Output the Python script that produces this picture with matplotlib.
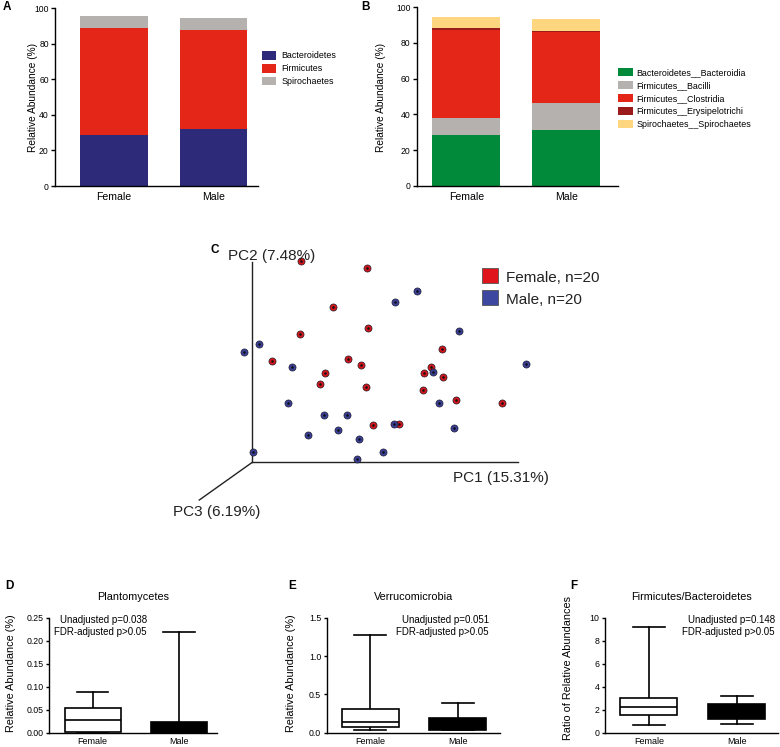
import numpy as np
import matplotlib
matplotlib.use("Agg")
import matplotlib.pyplot as plt
from matplotlib.patches import Rectangle

plt.rcParams['font.family'] = ['Liberation Sans', 'DejaVu Sans']

# ---------------- data ----------------
groups = ['Female', 'Male']

# Panel A (phylum level, %)
phy_bacteroidetes = [28.7, 31.8]
phy_firmicutes = [60.2, 55.8]
phy_spirochaetes = [6.6, 6.6]

# Panel B (class level, %)
cls_bacteroidia = [28.4, 31.2]
cls_bacilli = [9.4, 15.0]
cls_clostridia = [49.5, 39.8]
cls_erysipelotrichi = [1.1, 0.7]
cls_spirochaetes = [6.3, 6.7]

# Panel C (PCoA, projected coordinates)
fem_x = [48.4, 114.7, 80.4, 116.0, 47.4, 20.0, 95.7, 109.0, 73.0, 68.0,
         113.7, 190.0, 179.0, 171.7, 191.0, 170.7, 203.7, 250.0, 121.0, 146.7]
fem_y = [201.6, 194.6, 155.6, 134.6, 128.0, 101.6, 103.0, 97.0, 89.3, 78.0,
         75.6, 113.6, 95.6, 89.0, 85.0, 72.6, 62.3, 59.0, 37.3, 38.3]
male_x = [165.0, 142.7, 206.4, 6.7, -8.0, 40.0, 180.7, 273.7, 36.0, 187.0,
          71.4, 95.0, 141.4, 202.0, 56.0, 85.7, 106.7, 130.4, 0.4, 105.0]
male_y = [171.3, 160.6, 131.3, 118.6, 110.3, 95.3, 90.6, 98.3, 59.0, 59.0,
          47.3, 47.0, 38.0, 34.6, 27.6, 32.0, 23.0, 10.0, 10.6, 3.3]

# Panels D-F box summaries: (whislo, q1, med, q3, whishi)
plancto_female = (0.0, 0.001, 0.0275, 0.053, 0.088)
plancto_male = (0.0, 0.0, 0.0, 0.023, 0.22)
verru_female = (0.035, 0.074, 0.143, 0.309, 1.27)
verru_male = (0.03, 0.035, 0.10, 0.187, 0.383)
fb_female = (0.67, 1.54, 2.20, 2.99, 9.16)
fb_male = (0.75, 1.19, 1.90, 2.46, 3.19)

# ---------------- figure ----------------
W, H = 780, 747
fig = plt.figure(figsize=(W / 100, H / 100), dpi=100)


def add_ax(l, t, r, b):
    return fig.add_axes([l / W, 1 - b / H, (r - l) / W, (b - t) / H])


def fx(px):
    return px / W


def fy(py):
    return 1 - py / H


def style_axes(ax, tick_fs, xl_fs, tlen=2.5):
    for s in ['top', 'right']:
        ax.spines[s].set_visible(False)
    for s in ['left', 'bottom']:
        ax.spines[s].set_linewidth(1.0)
    ax.tick_params(axis='y', direction='out', length=tlen, width=1.0,
                   labelsize=tick_fs, pad=1.5)
    ax.tick_params(axis='x', length=0, labelsize=xl_fs, pad=4.5)


def ylab(ax, text, xc, yc, fs):
    ax.set_ylabel(text, fontsize=fs)
    ax.yaxis.set_label_coords(fx(xc), fy(yc), transform=fig.transFigure)
    ax.yaxis.label.set_va('center')


def letter(t, xc, yc):
    fig.text(fx(xc), fy(yc), t, fontsize=8.5, fontweight='bold',
             ha='center', va='center')


xpos = np.arange(len(groups))

# ---- Panel A ----
axA = add_ax(55, 8, 258, 186)
stackA = [(phy_bacteroidetes, '#2d2a7a', 'Bacteroidetes'),
          (phy_firmicutes, '#e42618', 'Firmicutes'),
          (phy_spirochaetes, '#b4b1af', 'Spirochaetes')]
bottom = np.zeros(len(groups))
for vals, col, lab in stackA:
    axA.bar(xpos, vals, 0.68, bottom=bottom, color=col, label=lab)
    bottom += np.array(vals)
axA.set_xlim(-0.593, 1.447)
axA.set_ylim(0, 100)
axA.set_yticks([0, 20, 40, 60, 80, 100])
axA.set_xticks(xpos)
axA.set_xticklabels(groups)
style_axes(axA, 6.2, 7.6, tlen=3.0)
ylab(axA, 'Relative Abundance (%)', 32.5, 97, 7.3)
axA.legend(loc='upper left', bbox_to_anchor=(fx(262), fy(51)),
           bbox_transform=fig.transFigure, frameon=False, fontsize=6.4,
           handlelength=1.6, handleheight=1.15, labelspacing=0.38,
           handletextpad=0.55, borderpad=0, borderaxespad=0)
letter('A', 6.5, 7.5)

# ---- Panel B ----
axB = add_ax(416.7, 7.3, 618, 185.7)
stackB = [(cls_bacteroidia, '#008a3a', 'Bacteroidetes__Bacteroidia'),
          (cls_bacilli, '#b4b1af', 'Firmicutes__Bacilli'),
          (cls_clostridia, '#e42618', 'Firmicutes__Clostridia'),
          (cls_erysipelotrichi, '#9b1a1a', 'Firmicutes__Erysipelotrichi'),
          (cls_spirochaetes, '#fdd67f', 'Spirochaetes__Spirochaetes')]
bottom = np.zeros(len(groups))
for vals, col, lab in stackB:
    axB.bar(xpos, vals, 0.68, bottom=bottom, color=col, label=lab)
    bottom += np.array(vals)
axB.set_xlim(-0.497, 1.52)
axB.set_ylim(0, 100)
axB.set_yticks([0, 20, 40, 60, 80, 100])
axB.set_xticks(xpos)
axB.set_xticklabels(groups)
style_axes(axB, 6.2, 7.6, tlen=3.0)
ylab(axB, 'Relative Abundance (%)', 381, 97, 7.3)
axB.legend(loc='upper left', bbox_to_anchor=(fx(618), fy(68.5)),
           bbox_transform=fig.transFigure, frameon=False, fontsize=6.4,
           handlelength=1.65, handleheight=1.0, labelspacing=0.43,
           handletextpad=0.45, borderpad=0, borderaxespad=0)
letter('B', 366, 7.5)

# ---- Panel C ----
axC = add_ax(150, 230, 600, 560)
axC.set_xlim(-102.3, 347.7)
axC.set_ylim(-97.7, 232.3)
axC.axis('off')
ax_len = {'pc1': 266.0, 'pc2': 200.6}
axC.plot([0, ax_len['pc1']], [0, 0], color='#222222', lw=1.0)
axC.plot([0, 0], [0, ax_len['pc2']], color='#222222', lw=1.0)
axC.plot([0, -53.0], [0, -37.7], color='#222222', lw=1.0)
red_c, blue_c = '#d8141b', '#3a3f98'
for xs, ys, col in [(fem_x, fem_y, red_c), (male_x, male_y, blue_c)]:
    axC.scatter(xs, ys, s=26, color=col, edgecolor='#1c1c2c', linewidth=0.5,
                zorder=3)
    axC.scatter(xs, ys, s=3.5, color='#111111', linewidth=0, zorder=4)
axC.text(-24.3, 206.3, 'PC2 (7.48%)', fontsize=11, ha='left', va='center',
         color='#222222')
axC.text(200.7, -15.7, 'PC1 (15.31%)', fontsize=11, ha='left', va='center',
         color='#222222')
axC.text(-79.3, -49.4, 'PC3 (6.19%)', fontsize=11, ha='left', va='center',
         color='#222222')
leg_items = [('Female, n=20', '#e0141b'), ('Male, n=20', '#3e479f')]
for i, (lab, col) in enumerate(leg_items):
    y0 = 179.3 - i * 22.0
    axC.add_patch(Rectangle((229.7, y0), 16, 15, facecolor=col,
                            edgecolor='#555555', linewidth=0.6,
                            clip_on=False))
    axC.text(253.7, y0 + 5.5, lab, fontsize=11, ha='left', va='center',
             color='#222222')
letter('C', 214.5, 250)

# ---- Panels D-F ----
def box_panel(ax, fstats, mstats, ylim, yticks, fmt, xlim, title, ptxt,
              tx, ylabel, ylx, yly):
    stats = []
    for s in (fstats, mstats):
        stats.append(dict(whislo=s[0], q1=s[1], med=s[2], q3=s[3],
                          whishi=s[4], fliers=[]))
    bp = ax.bxp(stats, positions=xpos, widths=0.65, capwidths=0.36,
                patch_artist=True, showfliers=False,
                boxprops=dict(linewidth=1.2, edgecolor='black'),
                whiskerprops=dict(linewidth=1.2, color='black'),
                capprops=dict(linewidth=1.2, color='black'),
                medianprops=dict(linewidth=1.2, color='black'))
    bp['boxes'][0].set_facecolor('white')
    bp['boxes'][1].set_facecolor('black')
    for w in bp['whiskers'] + bp['caps'] + bp['medians']:
        w.set_zorder(1)
    for b in bp['boxes']:
        b.set_zorder(2)
    bp['medians'][0].set_zorder(3)
    ax.set_xlim(*xlim)
    ax.set_ylim(*ylim)
    ax.set_yticks(yticks)
    ax.set_yticklabels([fmt.format(v) for v in yticks])
    ax.set_xticks(xpos)
    ax.set_xticklabels(groups)
    style_axes(ax, 6.3, 6.5)
    ax.tick_params(axis='x', pad=3)
    ax.set_title(title, fontsize=7.8, y=(732.7 - 596.7) / 115.0, pad=0,
                 va='center')
    fig.text(fx(tx), fy(626), ptxt, fontsize=7.0, ha='right', va='center',
             multialignment='right', linespacing=1.25)
    ylab(ax, ylabel, ylx, yly, 7.8)


axD = add_ax(49.3, 617.7, 217, 732.7)
box_panel(axD, plancto_female, plancto_male, (0, 0.25),
          [0, 0.05, 0.10, 0.15, 0.20, 0.25], '{:.2f}', (-0.503, 1.44),
          'Plantomycetes', 'Unadjusted p=0.038\nFDR-adjusted p>0.05', 147,
          'Relative Abundance (%)', 11, 673)
letter('D', 9, 586)

axE = add_ax(326.7, 617.7, 500, 732.7)
box_panel(axE, verru_female, verru_male, (0, 1.5),
          [0, 0.5, 1.0, 1.5], '{:.1f}', (-0.497, 1.48),
          'Verrucomicrobia', 'Unadjusted p=0.051\nFDR-adjusted p>0.05', 489,
          'Relative Abundance (%)', 291.5, 673)
letter('E', 291.7, 586)

axF = add_ax(605, 617.7, 778, 732.7)
box_panel(axF, fb_female, fb_male, (0, 10),
          [0, 2, 4, 6, 8, 10], '{:.0f}', (-0.5, 1.47),
          'Firmicutes/Bacteroidetes', 'Unadjusted p=0.148\nFDR-adjusted p>0.05',
          775, 'Ratio of Relative Abundances', 568, 668)
letter('F', 573.7, 586)

fig.savefig('out.png', dpi=100)
